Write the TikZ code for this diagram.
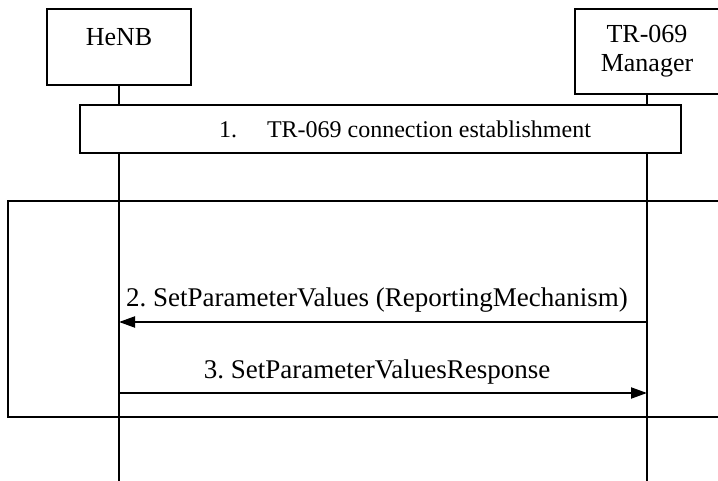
\documentclass[tikz,border=0pt]{standalone}
\usepackage{fontspec}
\setmainfont{Liberation Serif}
\usetikzlibrary{arrows.meta}

\tikzset{
  entity/.style={draw, rectangle, fill=white, line width=1.2pt, minimum width=144pt, align=center, font=\fontsize{26}{29}\selectfont},
  stepbox/.style={draw, rectangle, fill=white, line width=1.2pt, minimum width=601pt, minimum height=48pt, font=\fontsize{24}{28}\selectfont},
  loopframe/.style={draw, rectangle, line width=1.2pt, minimum width=720pt, minimum height=216pt},
  life/.style={line width=1.2pt},
  msg/.style={line width=2pt, -{Triangle[length=16pt,width=11pt]}},
  msglabel/.style={anchor=base, yshift=15pt, xshift=-6pt, font=\fontsize{27}{30}\selectfont}
}

\begin{document}
\frenchspacing
\begin{tikzpicture}[x=1pt, y=-1pt]
\clip (0,0) rectangle (718,481);

\node[entity, minimum height=76pt, text height=17pt, text depth=20pt](HeNB) at (119,47) {HeNB};
\node[entity, minimum height=85pt](TRM) at (647,51.5) {TR-069\\Manager};

\coordinate (HeNB_end) at (119,481);
\coordinate (TRM_end) at (647,481);
\draw[life](HeNB) to (HeNB_end);
\draw[life](TRM) to (TRM_end);

\node[stepbox](S1) at (380.5,129) {\hspace{49pt}1.\hspace{30pt}TR-069 connection establishment};

\node[loopframe](F1) at (368,309) {};

\coordinate (HeNB_m2) at (119,322);
\coordinate (TRM_m2) at (647,322);
\draw[msg](TRM_m2) to node[msglabel]{2. SetParameterValues (ReportingMechanism)} (HeNB_m2);

\coordinate (HeNB_m3) at (119,393);
\coordinate (TRM_m3) at (647,393);
\draw[msg](HeNB_m3) to node[msglabel]{3. SetParameterValuesResponse} (TRM_m3);
\end{tikzpicture}
\end{document}
